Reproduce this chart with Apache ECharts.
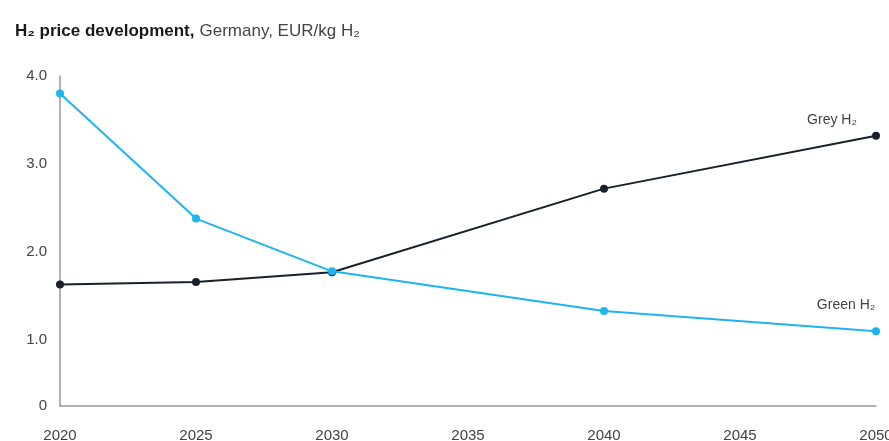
<!DOCTYPE html>
<html>
<head>
<meta charset="utf-8">
<script src="https://cdn.jsdelivr.net/npm/echarts@6/dist/echarts.min.js"></script>
<style>
  html, body { margin: 0; padding: 0; background: #fff; }
  #chart { width: 889px; height: 441px; }
</style>
</head>
<body>
<div id="chart"></div>
<script>
// 数据
const years = [2020, 2025, 2030, 2040, 2050];
const greyH2 = [1.63, 1.66, 1.77, 2.72, 3.32];
const greenH2 = [3.80, 2.38, 1.78, 1.33, 1.10];
const yTicks = [0.25, 1, 2, 3, 4]; // 最下面一格标 "0"

const chart = echarts.init(document.getElementById('chart'));
const font = '"Liberation Sans", Arial, sans-serif';

function pts(vals) {
  return years.map((y, i) => [y, vals[i]]);
}

// 末端标签
function withEndLabel(data, text, offset) {
  const last = data.length - 1;
  data[last] = {
    value: data[last],
    label: {
      show: true,
      formatter: text,
      position: 'top',
      offset: offset,
      color: '#444',
      fontSize: 14,
      fontFamily: font
    }
  };
  return data;
}

const option = {
  backgroundColor: '#fff',
  animation: false,
  title: {
    left: 10,
    top: 17,
    text: '{b|H₂ price development,} {n|Germany, EUR/kg H₂}',
    textStyle: {
      fontWeight: 'normal',
      rich: {
        b: { fontWeight: 'bold', fontSize: 17, color: '#1a1a1a', fontFamily: font },
        n: { fontWeight: 'normal', fontSize: 17, color: '#444', fontFamily: font }
      }
    }
  },
  grid: { left: 60, right: 13, top: 76, bottom: 35, outerBoundsMode: 'none' },
  xAxis: {
    type: 'value',
    min: 2020,
    max: 2050,
    interval: 5,
    splitLine: { show: false },
    axisTick: { show: false },
    axisLine: { lineStyle: { color: '#999', width: 1.5 } },
    axisLabel: {
      margin: 22,
      color: '#444',
      fontSize: 15,
      fontFamily: font,
      formatter: v => String(v)
    }
  },
  yAxis: {
    type: 'value',
    min: 0.25,
    max: 4,
    splitLine: { show: false },
    axisTick: { show: false },
    axisLine: { show: true, lineStyle: { color: '#999', width: 1.5 } },
    axisLabel: {
      customValues: yTicks,
      margin: 13,
      color: '#444',
      fontSize: 15,
      fontFamily: font,
      formatter: v => v < 0.5 ? '0' : v.toFixed(1)
    }
  },
  series: [
    {
      name: 'Grey H₂',
      type: 'line',
      data: withEndLabel(pts(greyH2), 'Grey H₂', [-44, 0]),
      symbol: 'circle',
      symbolSize: 8,
      color: '#17202c',
      lineStyle: { width: 2, color: '#17202c' },
      z: 2
    },
    {
      name: 'Green H₂',
      type: 'line',
      data: withEndLabel(pts(greenH2), 'Green H₂', [-30, -10]),
      symbol: 'circle',
      symbolSize: 8,
      color: '#1eb4ef',
      lineStyle: { width: 2, color: '#1eb4ef' },
      z: 3
    }
  ]
};

chart.setOption(option);
</script>
</body>
</html>
